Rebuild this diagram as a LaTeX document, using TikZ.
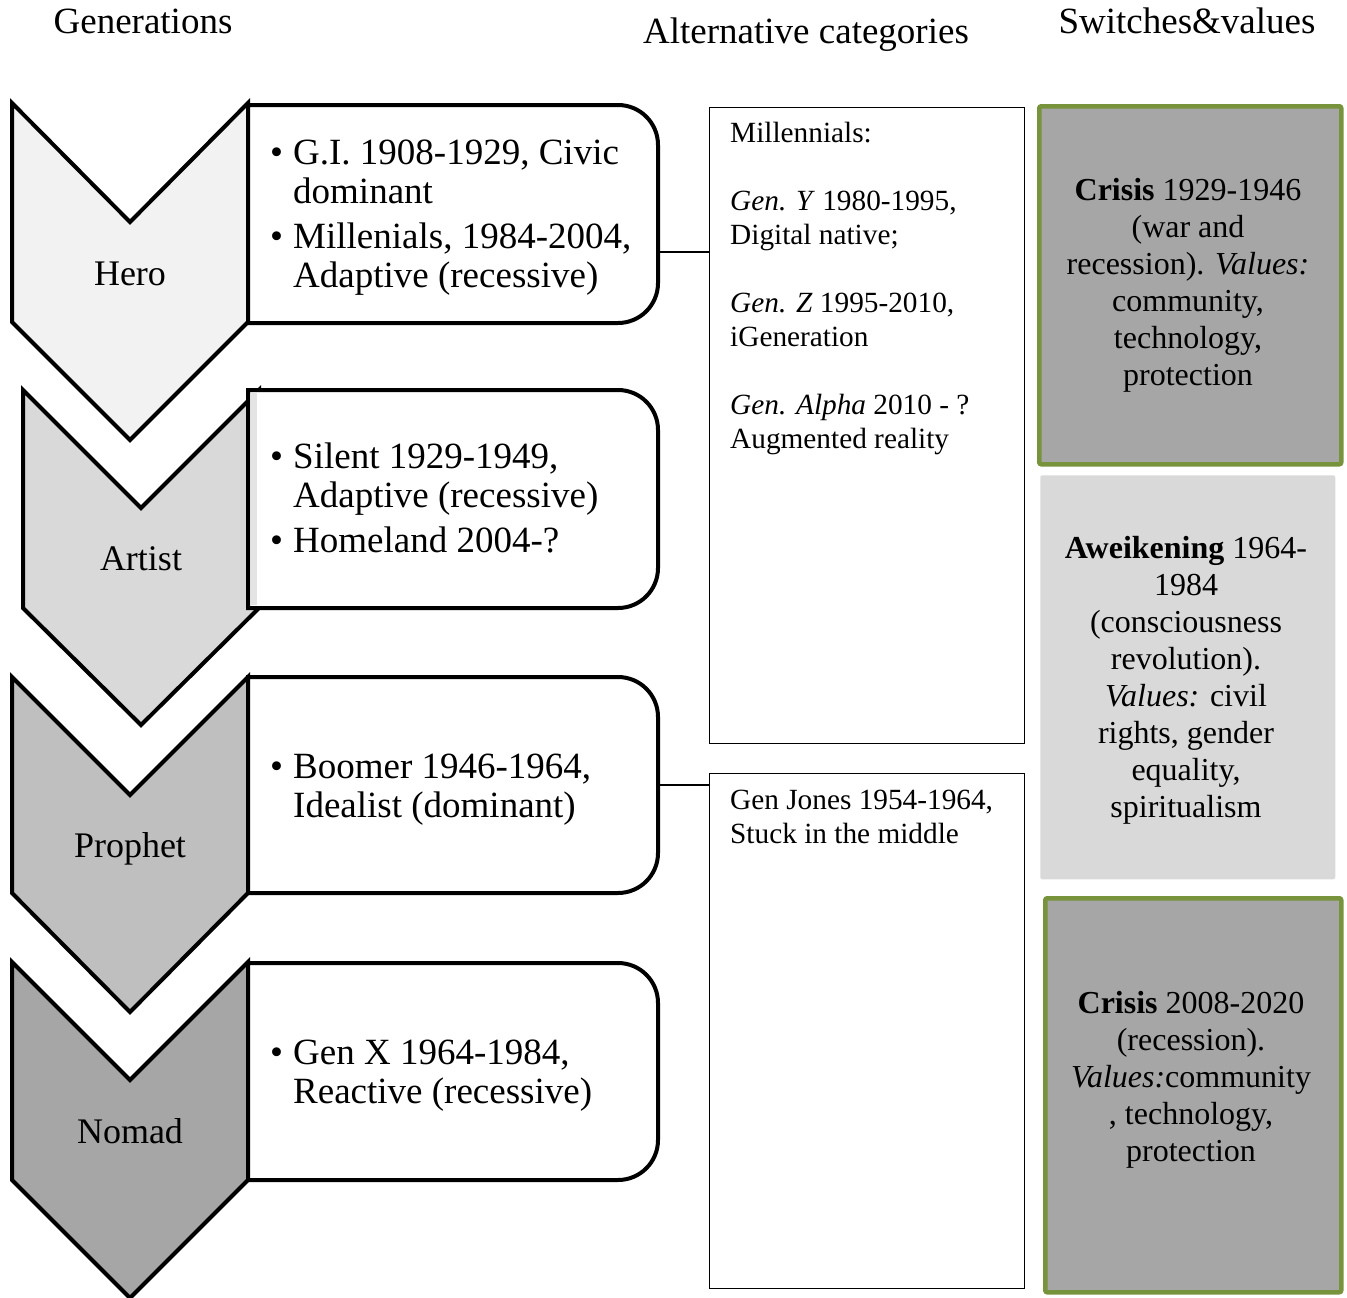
\documentclass[tikz,border=0pt]{standalone}
\usepackage{fontspec}
\setmainfont{Liberation Serif}
\usetikzlibrary{positioning}

\definecolor{herofill}{HTML}{F2F2F2}
\definecolor{artistfill}{HTML}{D9D9D9}
\definecolor{prophetfill}{HTML}{BFBFBF}
\definecolor{nomadfill}{HTML}{A6A6A6}
\definecolor{crisisgreen}{HTML}{77933C}

\tikzset{
  chevron/.style={draw=black,line width=4pt,line join=miter},
  genbox/.style={draw=black,fill=white,line width=4pt},
  headtext/.style={font=\fontsize{37}{40}\selectfont,inner sep=0pt,anchor=base},
  genlabel/.style={font=\fontsize{36}{39}\selectfont,inner sep=0pt,anchor=base},
  genlist/.style={font=\fontsize{37}{39}\selectfont,inner sep=0pt,anchor=west},
  altbox/.style={draw=black,line width=1.3pt,anchor=north west,inner sep=0pt},
  alttext/.style={font=\fontsize{29.3}{34}\selectfont,align=left,anchor=north west,inner sep=0pt},
  switchbox/.style={line width=4.5pt,anchor=north west,inner sep=0pt,rounded corners=2pt},
  switchtext/.style={font=\fontsize{32}{37}\selectfont,align=center,inner sep=0pt},
  link/.style={draw=black,line width=2pt}
}

\begin{document}
\begin{tikzpicture}[x=1pt,y=-1pt]
\useasboundingbox (0,0) rectangle (1347,1298);

% column heads
\node[headtext] (genhead) at (143,34) {Generations};
\node[headtext] (althead) at (806,44) {Alternative categories};
\node[headtext] (switchhead) at (1187,34) {Switches\&values};

% chevrons
\draw[chevron,fill=herofill] (12,103) -- (130,222) -- (248,103) -- (248,322) -- (130,440) -- (12,322) -- cycle;
\draw[chevron,fill=artistfill] (23,390) -- (141,508) -- (259,390) -- (259,608) -- (141,725) -- (23,608) -- cycle;
\draw[chevron,fill=prophetfill] (12,677) -- (130,795) -- (248,677) -- (248,893) -- (130,1012) -- (12,893) -- cycle;
\draw[chevron,fill=nomadfill] (12,962) -- (130,1080) -- (248,962) -- (248,1180) -- (130,1298) -- (12,1180) -- cycle;
\node[genlabel] (hero) at (130,285) {Hero};
\node[genlabel] (artist) at (141,570) {Artist};
\node[genlabel] (prophet) at (130,857) {Prophet};
\node[genlabel] (nomad) at (130,1143) {Nomad};

% generation boxes
\draw[genbox] (248,105) -- (618,105) arc[start angle=-90,end angle=0,radius=40] -- (658,283) arc[start angle=0,end angle=90,radius=40] -- (248,323) -- cycle;
\draw[genbox] (248,390) -- (618,390) arc[start angle=-90,end angle=0,radius=40] -- (658,568) arc[start angle=0,end angle=90,radius=40] -- (248,608) -- cycle;
\fill[artistfill!70] (251,393) rectangle (257,605);
\draw[genbox] (248,677) -- (618,677) arc[start angle=-90,end angle=0,radius=40] -- (658,853) arc[start angle=0,end angle=90,radius=40] -- (248,893) -- cycle;
\draw[genbox] (248,963) -- (618,963) arc[start angle=-90,end angle=0,radius=40] -- (658,1140) arc[start angle=0,end angle=90,radius=40] -- (248,1180) -- cycle;
\coordinate (herobox) at (658,252);
\coordinate (prophetbox) at (656,785);

\node[genlist] (herolist) at (270,218) {\begin{tabular}{@{}p{23pt}@{}l@{}}
\textbullet & G.I. 1908-1929, Civic\\
 & dominant\\[6pt]
\textbullet & Millenials, 1984-2004,\\
 & Adaptive (recessive)
\end{tabular}};
\node[genlist] (artistlist) at (270,503) {\begin{tabular}{@{}p{23pt}@{}l@{}}
\textbullet & Silent 1929-1949,\\
 & Adaptive (recessive)\\[6pt]
\textbullet & Homeland 2004-?
\end{tabular}};
\node[genlist] (prophetlist) at (270,790) {\begin{tabular}{@{}p{23pt}@{}l@{}}
\textbullet & Boomer 1946-1964,\\
 & Idealist (dominant)
\end{tabular}};
\node[genlist] (nomadlist) at (270,1076) {\begin{tabular}{@{}p{23pt}@{}l@{}}
\textbullet & Gen X 1964-1984,\\
 & Reactive (recessive)
\end{tabular}};

% alternative categories
\node[altbox,minimum width=315,minimum height=636] (millbox) at (709,107) {};
\node[altbox,minimum width=315,minimum height=515] (jonesbox) at (709,773) {};
\node[alttext] (milltext) at (730,122) {Millennials:\\[34pt]
\textit{Gen. Y} 1980-1995,\\ Digital native;\\[34pt]
\textit{Gen. Z} 1995-2010,\\ iGeneration\\[34pt]
\textit{Gen. Alpha} 2010 - ?\\ Augmented reality};
\node[alttext] (jonestext) at (730,790) {Gen Jones 1954-1964,\\ Stuck in the middle};

\draw[link] (herobox) -- (herobox -| millbox.west);
\draw[link] (prophetbox) -- (prophetbox -| jonesbox.west);

% switches and values
\node[switchbox,draw=crisisgreen,fill=nomadfill,minimum width=302,minimum height=358] (crisisone) at (1037,104) {};
\node[switchbox,draw=none,fill=artistfill,minimum width=295,minimum height=404] (awake) at (1038,473) {};
\node[switchbox,draw=crisisgreen,fill=nomadfill,minimum width=296,minimum height=394] (crisistwo) at (1043,896) {};
\node[switchtext] (crisisonetext) at (1188,285) {\textbf{Crisis} 1929-1946\\ (war and\\ recession). \textit{Values:}\\ community,\\ technology,\\ protection};
\node[switchtext] (awaketext) at (1186,680) {\textbf{Aweikening} 1964-\\ 1984\\ (consciousness\\ revolution).\\ \textit{Values:} civil\\ rights, gender\\ equality,\\ spiritualism};
\node[switchtext] (crisistwotext) at (1191,1080) {\textbf{Crisis} 2008-2020\\ (recession).\\ \textit{Values:}community\\ , technology,\\ protection};
\end{tikzpicture}
\end{document}
